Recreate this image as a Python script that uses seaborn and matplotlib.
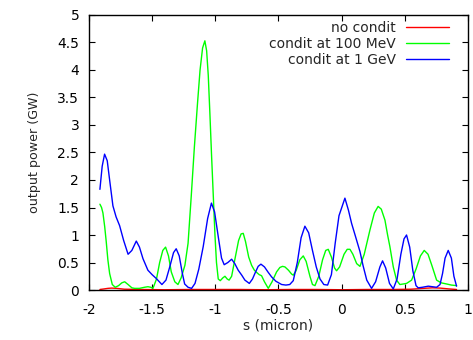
import matplotlib
matplotlib.use("Agg")
import matplotlib.pyplot as plt
import pandas as pd
import seaborn as sns

# values
labels = ["no condit", "condit at 100 MeV", "condit at 1 GeV"]
colors = ["#ff0000", "#00ff00", "#0000ff"]

red_s = [-1.913, -1.88, -1.85, -1.82, -1.78, -1.72, -1.6, -1.4, -1.2, -1.0, -0.8, -0.6,
         -0.4, -0.2, 0.0, 0.2, 0.4, 0.55, 0.65, 0.72, 0.78, 0.85, 0.911]
red_p = [0.01, 0.02, 0.03, 0.035, 0.03, 0.015, 0.01, 0.005, 0.01, 0.01, 0.01, 0.005,
         0.01, 0.01, 0.005, 0.01, 0.01, 0.015, 0.03, 0.04, 0.035, 0.02, 0.01]

green_s = [-1.913, -1.9, -1.889, -1.875, -1.863, -1.85, -1.836, -1.815, -1.792, -1.765,
           -1.74, -1.717, -1.69, -1.66, -1.638, -1.6, -1.56, -1.533, -1.51, -1.493,
           -1.465, -1.44, -1.415, -1.393, -1.37, -1.348, -1.32, -1.295, -1.27, -1.24,
           -1.215, -1.19, -1.165, -1.14, -1.12, -1.1, -1.082, -1.068, -1.055, -1.042,
           -1.029, -1.015, -1.002, -0.99, -0.976, -0.96, -0.94, -0.923, -0.905, -0.89,
           -0.87, -0.845, -0.815, -0.795, -0.778, -0.76, -0.735, -0.712, -0.69, -0.672,
           -0.652, -0.633, -0.61, -0.58, -0.55, -0.514, -0.488, -0.467, -0.448, -0.42,
           -0.395, -0.382, -0.36, -0.33, -0.303, -0.28, -0.25, -0.23, -0.21, -0.18,
           -0.15, -0.125, -0.105, -0.08, -0.055, -0.039, -0.015, 0.02, 0.045, 0.067,
           0.09, 0.12, 0.146, 0.18, 0.225, 0.26, 0.29, 0.315, 0.344, 0.365,
           0.383, 0.41, 0.436, 0.462, 0.49, 0.515, 0.555, 0.59, 0.625, 0.655,
           0.685, 0.715, 0.753, 0.79, 0.832, 0.87, 0.911]
green_p = [1.56, 1.50, 1.40, 1.15, 0.88, 0.55, 0.30, 0.10, 0.05, 0.08,
           0.13, 0.15, 0.10, 0.04, 0.03, 0.03, 0.05, 0.06, 0.05, 0.03,
           0.20, 0.50, 0.72, 0.78, 0.62, 0.33, 0.15, 0.10, 0.22, 0.45,
           0.85, 1.70, 2.60, 3.40, 4.00, 4.40, 4.53, 4.35, 3.90, 3.20,
           2.45, 1.70, 1.00, 0.50, 0.20, 0.17, 0.22, 0.25, 0.20, 0.18,
           0.25, 0.55, 0.90, 1.02, 1.03, 0.88, 0.60, 0.45, 0.36, 0.32,
           0.28, 0.26, 0.15, 0.03, 0.15, 0.33, 0.41, 0.43, 0.42, 0.36,
           0.29, 0.27, 0.35, 0.55, 0.62, 0.52, 0.25, 0.10, 0.08, 0.25,
           0.55, 0.72, 0.74, 0.60, 0.40, 0.35, 0.42, 0.65, 0.74, 0.74,
           0.65, 0.48, 0.43, 0.65, 1.09, 1.40, 1.52, 1.47, 1.27, 1.00,
           0.79, 0.42, 0.18, 0.10, 0.11, 0.12, 0.18, 0.38, 0.62, 0.72,
           0.65, 0.45, 0.18, 0.13, 0.11, 0.09, 0.08]

blue_s = [-1.913, -1.895, -1.876, -1.855, -1.836, -1.81, -1.785, -1.757, -1.725, -1.69,
          -1.66, -1.625, -1.6, -1.572, -1.533, -1.5, -1.467, -1.422, -1.39, -1.36,
          -1.33, -1.309, -1.285, -1.26, -1.242, -1.215, -1.187, -1.16, -1.13, -1.095,
          -1.06, -1.03, -1.005, -0.976, -0.95, -0.929, -0.9, -0.87, -0.845, -0.818,
          -0.79, -0.765, -0.73, -0.705, -0.686, -0.66, -0.638, -0.61, -0.58, -0.554,
          -0.52, -0.474, -0.44, -0.41, -0.382, -0.35, -0.32, -0.29, -0.26, -0.23,
          -0.2, -0.17, -0.14, -0.11, -0.08, -0.05, -0.02, 0.027, 0.055, 0.08,
          0.11, 0.146, 0.17, 0.2, 0.238, 0.27, 0.304, 0.325, 0.35, 0.38,
          0.41, 0.44, 0.47, 0.495, 0.515, 0.54, 0.565, 0.59, 0.607, 0.64,
          0.687, 0.72, 0.753, 0.78, 0.8, 0.82, 0.845, 0.87, 0.89, 0.911]
blue_p = [1.83, 2.25, 2.47, 2.35, 2.00, 1.53, 1.33, 1.17, 0.90, 0.65,
          0.72, 0.89, 0.78, 0.57, 0.36, 0.28, 0.21, 0.10, 0.18, 0.42,
          0.68, 0.75, 0.62, 0.30, 0.11, 0.05, 0.03, 0.12, 0.38, 0.79,
          1.30, 1.58, 1.42, 0.97, 0.58, 0.46, 0.50, 0.56, 0.48, 0.36,
          0.27, 0.18, 0.12, 0.20, 0.30, 0.43, 0.47, 0.42, 0.32, 0.24,
          0.16, 0.10, 0.09, 0.10, 0.17, 0.50, 0.95, 1.16, 1.04, 0.72,
          0.42, 0.20, 0.10, 0.09, 0.28, 0.85, 1.35, 1.67, 1.45, 1.21,
          0.98, 0.70, 0.45, 0.18, 0.03, 0.15, 0.42, 0.53, 0.40, 0.12,
          0.02, 0.20, 0.65, 0.93, 1.00, 0.78, 0.35, 0.08, 0.04, 0.05,
          0.07, 0.06, 0.05, 0.10, 0.30, 0.58, 0.72, 0.58, 0.25, 0.07]

xticks = [-2, -1.5, -1, -0.5, 0, 0.5, 1]
xticklabels = ["-2", "-1.5", "-1", "-0.5", "0", "0.5", "1"]
yticks = [0, 0.5, 1, 1.5, 2, 2.5, 3, 3.5, 4, 4.5, 5]
yticklabels = ["0", "0.5", "1", "1.5", "2", "2.5", "3", "3.5", "4", "4.5", "5"]

df = pd.concat([
    pd.DataFrame({"s": red_s, "power": red_p, "series": labels[0]}),
    pd.DataFrame({"s": green_s, "power": green_p, "series": labels[1]}),
    pd.DataFrame({"s": blue_s, "power": blue_p, "series": labels[2]}),
], ignore_index=True)

sns.set_style("ticks")
plt.rcParams["font.family"] = ["DejaVu Sans"]
plt.rcParams["axes.unicode_minus"] = False

fig = plt.figure(figsize=(4.73, 3.40), dpi=100)
ax = fig.add_axes([0.188, 0.147, 0.801, 0.809])

sns.lineplot(data=df, x="s", y="power", hue="series", hue_order=labels,
             palette=colors, sort=False, estimator=None, linewidth=1.0, ax=ax)

ax.set_xlim(-2, 1)
ax.set_ylim(0, 5)
ax.set_xticks(xticks)
ax.set_xticklabels(xticklabels)
ax.set_yticks(yticks)
ax.set_yticklabels(yticklabels)
ax.tick_params(direction="in", length=4, width=0.8, top=True, right=True,
               labelsize=10, colors="black")
ax.tick_params(axis="x", pad=9.5)
ax.tick_params(axis="y", pad=7)
for sp in ax.spines.values():
    sp.set_linewidth(1.0)
    sp.set_color("black")
ax.set_xlabel("s (micron)", fontsize=10, labelpad=1)
ax.set_ylabel("output power (GW)", fontsize=9.1, labelpad=12)

leg = ax.legend(loc="upper right", bbox_to_anchor=(0.965, 1.0), frameon=False,
                markerfirst=False, fontsize=10, handlelength=3.1,
                handletextpad=0.7, labelspacing=0.15, borderaxespad=0)
leg._legend_box._children[1]._children[0].align = "right"

fig.savefig("out.png", dpi=100)
